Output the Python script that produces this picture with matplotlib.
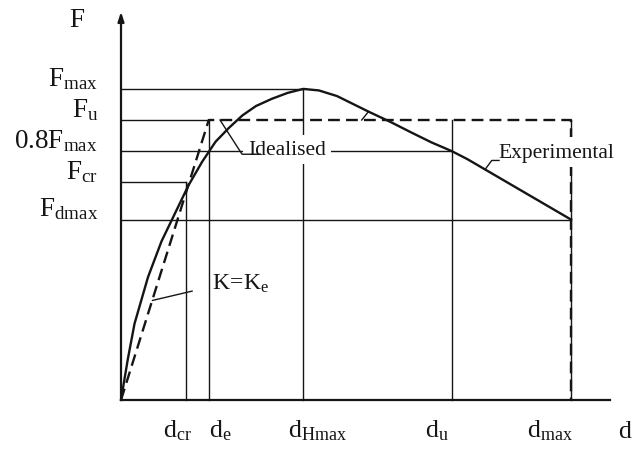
import matplotlib
matplotlib.use("Agg")
import matplotlib.pyplot as plt

plt.rcParams['font.family'] = ['Liberation Serif', 'DejaVu Serif']
plt.rcParams['mathtext.fontset'] = 'custom'
plt.rcParams['mathtext.rm'] = 'Liberation Serif'
plt.rcParams['mathtext.it'] = 'Liberation Serif:italic'
plt.rcParams['mathtext.bf'] = 'Liberation Serif:bold'

# Experimental force-displacement curve
exp_d = [0.0, 0.15, 0.3, 0.6, 0.9, 1.2, 1.5, 1.8, 2.1, 2.4, 2.7, 3.0, 3.35,
         3.7, 4.05, 4.4, 4.8, 5.15, 5.5, 6.0, 6.45, 6.9, 7.35, 7.7, 10.0]
exp_F = [0.0, 0.13, 0.245, 0.395, 0.51, 0.60, 0.69, 0.765, 0.83, 0.875, 0.915,
         0.945, 0.968, 0.987, 1.0, 0.995, 0.977, 0.952, 0.927, 0.893, 0.86,
         0.828, 0.80, 0.774, 0.58]

# Characteristic forces
F_max, F_u, F_08, F_cr, F_dmax = 1.0, 0.90, 0.80, 0.70, 0.58
force_values = [F_max, F_u, F_08, F_cr, F_dmax]
force_labels = [r'$\mathrm{F}_{\mathrm{max}}$', r'$\mathrm{F}_{\mathrm{u}}$',
                r'$\mathrm{0.8F}_{\mathrm{max}}$', r'$\mathrm{F}_{\mathrm{cr}}$',
                r'$\mathrm{F}_{\mathrm{dmax}}$']

# Characteristic displacements
d_cr, d_e, d_Hmax, d_u, d_max = 1.45, 1.95, 4.05, 7.35, 10.0
disp_values = [d_cr, d_e, d_Hmax, d_u, d_max]
disp_labels = [r'$\mathrm{d}_{\mathrm{cr}}$', r'$\mathrm{d}_{\mathrm{e}}$',
               r'$\mathrm{d}_{\mathrm{Hmax}}$', r'$\mathrm{d}_{\mathrm{u}}$',
               r'$\mathrm{d}_{\mathrm{max}}$']

# Idealised bilinear model
ideal_d = [0.0, d_e, d_max, d_max]
ideal_F = [0.0, F_u, F_u, 0.0]

ink = '#151515'
thin = 1.0

fig = plt.figure(figsize=(6.33, 4.52), dpi=100)
ax = fig.add_axes([0, 0, 1, 1])
ax.set_xlim(-2.689, 11.378)
ax.set_ylim(-0.164, 1.289)
ax.axis('off')

# horizontal guides: each force level runs from the axis to its displacement
h_ends = [d_Hmax, d_e, d_u, d_cr, d_max]
for F, d_end in zip(force_values, h_ends):
    ax.plot([0, d_end], [F, F], color=ink, lw=thin, zorder=1)

# vertical guides: each displacement runs from the axis up to its force level
v_tops = [F_cr, F_u, F_max, F_u, F_u]
for d, F_top in zip(disp_values, v_tops):
    ax.plot([d, d], [0, F_top], color=ink, lw=thin, zorder=1)

# axes
ax.plot([0, 10.87], [0, 0], color=ink, lw=1.6, zorder=2)
ax.annotate('', xy=(0, 1.248), xytext=(0, 0),
            arrowprops=dict(arrowstyle='-|>,head_length=0.55,head_width=0.18',
                            lw=1.6, color=ink, shrinkA=0, shrinkB=0), zorder=2)

# curves
ax.plot(exp_d, exp_F, color=ink, lw=1.7, solid_joinstyle='round', zorder=3)
ax.plot(ideal_d, ideal_F, color=ink, lw=1.7, dashes=(5.0, 2.6), zorder=3)

# force labels on the vertical axis
for F, lab in zip(force_values, force_labels):
    ax.annotate(lab, xy=(0, F), xytext=(-16.5, 3), textcoords='offset points',
                ha='right', va='baseline', fontsize=19.5, color=ink)

# displacement labels under the horizontal axis
disp_offsets = [-6, 8, 10, -11, -15]
for d, lab, off in zip(disp_values, disp_labels, disp_offsets):
    ax.annotate(lab, xy=(d, 0), xytext=(off, -26.5), textcoords='offset points',
                ha='center', va='baseline', fontsize=18.5, color=ink)

ax.text(-0.98, 1.222, 'F', ha='center', va='center', fontsize=19.5, color=ink)
ax.annotate('d', xy=(11.05, 0), xytext=(0, -26.5), textcoords='offset points',
            ha='left', va='baseline', fontsize=18.5, color=ink)

# annotations
ax.text(2.67, 0.357, r'$\mathrm{K\!=\!K}_{\mathrm{e}}$', ha='center',
        va='baseline', fontsize=17, color=ink, zorder=4)
ax.plot([1.58, 0.70], [0.35, 0.32], color=ink, lw=thin, zorder=4)

ax.text(3.69, 0.805, 'Idealised', ha='center', va='center', fontsize=15.5,
        color=ink, zorder=5,
        bbox=dict(boxstyle='square,pad=0.25', fc='white', ec='none'))
ax.plot([2.2, 2.69, 3.1], [F_u, 0.79, 0.79], color=ink, lw=thin, zorder=6)

ax.text(9.67, 0.797, 'Experimental', ha='center', va='center', fontsize=15.5,
        color=ink, zorder=5,
        bbox=dict(boxstyle='square,pad=0.25', fc='white', ec='none'))
ax.plot([8.09, 8.24, 8.4], [0.741, 0.77, 0.77], color=ink, lw=thin, zorder=6)

ax.plot([5.35, 5.5], [F_u, 0.927], color=ink, lw=thin, zorder=4)

fig.savefig('out.png', dpi=100)
